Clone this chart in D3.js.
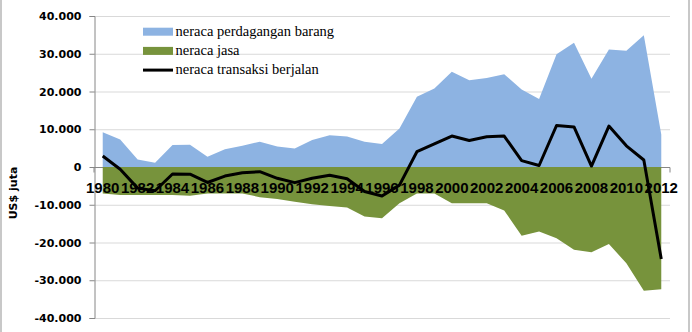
<!DOCTYPE html>
<html>
<head>
<meta charset="utf-8">
<script src="https://cdn.jsdelivr.net/npm/d3@7"></script>
<style>
  body { margin: 0; background: #fff; }
  svg { display: block; }
</style>
</head>
<body>
<svg id="chart" width="692" height="332"></svg>
<script>
// --- DATA ---
const years = d3.range(1980, 2013);
const barang = [9200, 7300, 2000, 1100, 5800, 5900, 2700, 4700, 5600, 6700, 5400, 4900,
  7150, 8400, 8100, 6700, 6100, 10200, 18600, 20800, 25200, 23000, 23600, 24600,
  20500, 18000, 29900, 32900, 23400, 31100, 30800, 34900, 8600];
const jasa = [-7000, -7400, -7400, -7400, -7400, -7600, -7000, -7000, -7000, -8000, -8500, -9200,
  -9900, -10300, -10700, -13100, -13600, -9600, -7000, -7000, -9600, -9600, -9600, -11500,
  -18200, -17100, -18900, -21900, -22600, -20400, -25500, -32800, -32400];
const transaksi = [2900, -600, -5600, -6300, -1850, -1900, -4100, -2400, -1500, -1250, -3000, -4150,
  -3000, -2200, -3100, -6500, -7700, -4800, 4050, 6100, 8200, 7000, 8000, 8200,
  1700, 400, 11000, 10600, 250, 10850, 5600, 1850, -24400];
const yTicks = [40000, 30000, 20000, 10000, 0, -10000, -20000, -30000, -40000];
const xLabels = years.filter(y => y % 2 === 0);
const legendItems = [
  { label: "neraca perdagangan barang", type: "area", color: "#8db3e2" },
  { label: "neraca jasa", type: "area", color: "#77933c" },
  { label: "neraca transaksi berjalan", type: "line", color: "#000" }
];

// --- CHART ---
const svg = d3.select("#chart");
const W = 692, H = 332;
const mL = 94, mR = 670, mT = 16, mB = 318;

const x = d3.scaleBand().domain(years).range([mL, mR]).padding(0);
const cx = yr => x(yr) + x.bandwidth() / 2;
const y = d3.scaleLinear().domain([-40000, 40000]).range([mB, mT]);
const fmt = v => v === 0 ? "0" : d3.format(",")(v).replace(/,/g, ".").replace("−", "-");

// frame
svg.append("line").attr("x1", 1).attr("x2", 1).attr("y1", 0).attr("y2", H)
  .attr("stroke", "#c8c8c8").attr("stroke-width", 2);
svg.append("line").attr("x1", 689).attr("x2", 689).attr("y1", 0).attr("y2", H)
  .attr("stroke", "#c8c8c8").attr("stroke-width", 2);

// grid
svg.append("g").selectAll("line").data(yTicks).join("line")
  .attr("x1", mL).attr("x2", mR)
  .attr("y1", d => y(d) + 0.5).attr("y2", d => y(d) + 0.5)
  .attr("stroke", "#d9d9d9").attr("stroke-width", 1);

// y axis
const yAxis = svg.append("g").attr("transform", `translate(${mL + 0.5},0)`)
  .call(d3.axisLeft(y).tickValues(yTicks).tickSize(5).tickPadding(8).tickFormat(fmt));
yAxis.select(".domain").attr("stroke", "#868686");
yAxis.selectAll(".tick line").attr("stroke", "#868686");
yAxis.selectAll("text")
  .style("font-family", "'DejaVu Sans', sans-serif")
  .style("font-size", "11px").style("font-weight", "bold").attr("fill", "#000");

// x axis line at zero
const xAxis = svg.append("g").attr("transform", `translate(0,${y(0) + 0.5})`);
xAxis.append("line").attr("x1", mL).attr("x2", mR).attr("stroke", "#868686");
xAxis.selectAll(".tk").data(years.concat([2013])).join("line")
  .attr("x1", d => (d === 2013 ? mR : x(d))).attr("x2", d => (d === 2013 ? mR : x(d)))
  .attr("y1", 0).attr("y2", 5).attr("stroke", "#868686");

// areas
const areaFrom = vals => d3.area()
  .x((d, i) => cx(years[i])).y0(y(0)).y1(d => y(d))(vals);
svg.append("path").attr("d", areaFrom(barang)).attr("fill", legendItems[0].color);
svg.append("path").attr("d", areaFrom(jasa)).attr("fill", legendItems[1].color);

// x labels
svg.append("g").selectAll("text").data(xLabels).join("text")
  .attr("x", d => cx(d)).attr("y", 193)
  .attr("text-anchor", "middle")
  .style("font-family", "'Liberation Sans', Arial, sans-serif")
  .style("font-size", "15px").style("font-weight", "bold")
  .attr("fill", "#000").text(d => d);

// current account line
const line = d3.line().x((d, i) => cx(years[i])).y(d => y(d));
svg.append("path").attr("d", line(transaksi))
  .attr("fill", "none").attr("stroke", "#000").attr("stroke-width", 3)
  .attr("stroke-linejoin", "round");

// y title
svg.append("text")
  .attr("transform", "translate(17,193) rotate(-90)")
  .attr("text-anchor", "middle")
  .style("font-family", "'DejaVu Sans', sans-serif")
  .style("font-size", "11px").style("font-weight", "bold")
  .text("US$ juta");

// legend
const lg = svg.append("g").selectAll("g").data(legendItems).join("g")
  .attr("transform", (d, i) => `translate(143,${31.7 + i * 19.2})`);
lg.filter(d => d.type === "area").append("rect")
  .attr("x", 0).attr("y", -4).attr("width", 30).attr("height", 8)
  .attr("fill", d => d.color);
lg.filter(d => d.type === "line").append("line")
  .attr("x1", 0).attr("x2", 30).attr("y1", 0).attr("y2", 0)
  .attr("stroke", d => d.color).attr("stroke-width", 3);
lg.append("text")
  .attr("x", 32.5).attr("y", 4)
  .style("font-family", "'Liberation Serif', 'Times New Roman', serif")
  .style("font-size", "14.5px").attr("fill", "#000")
  .text(d => d.label);
</script>
</body>
</html>
